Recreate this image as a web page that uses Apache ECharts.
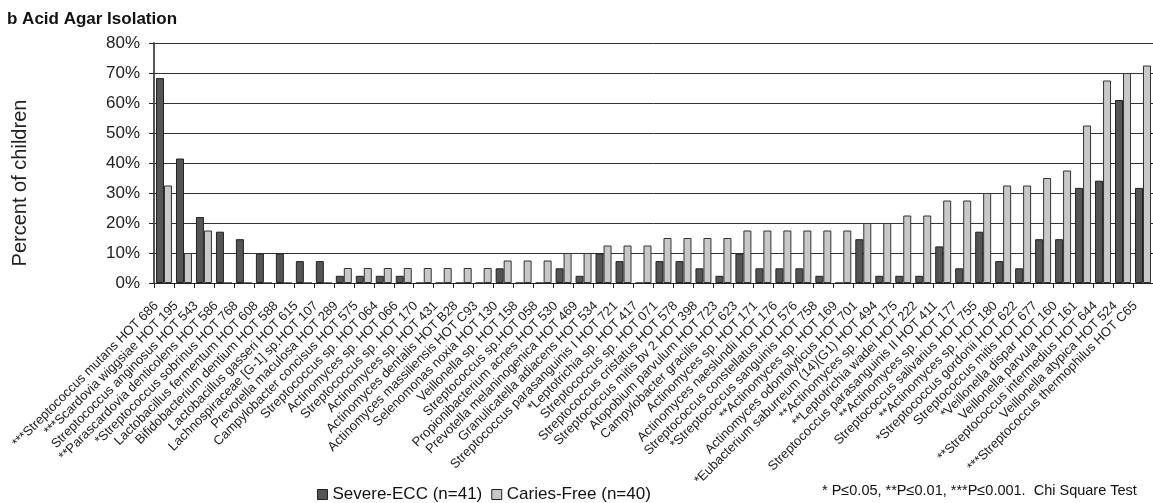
<!DOCTYPE html>
<html>
<head>
<meta charset="utf-8">
<script src="https://cdn.jsdelivr.net/npm/echarts@6/dist/echarts.min.js"></script>
<style>
html,body{margin:0;padding:0;background:#fff;}
#chart{width:1153px;height:503px;}
</style>
</head>
<body>
<div id="chart"></div>
<script>
var categories = [
  "***Streptococcus mutans HOT 686",
  "***Scardovia wiggsiae HOT 195",
  "Streptococcus anginosus HOT 543",
  "**Parascardovia denticolens HOT 586",
  "*Streptococcus sobrinus HOT 768",
  "Lactobacillus fermentum HOT 608",
  "Bifidobacterium dentium HOT 588",
  "Lactobacillus gasseri HOT 615",
  "Lachnospiraceae [G-1] sp.HOT 107",
  "Prevotella maculosa HOT 289",
  "Campylobacter concisus HOT 575",
  "Streptococcus sp. HOT 064",
  "Actinomyces sp. HOT 066",
  "Streptococcus sp. HOT 170",
  "Actinomyces sp. HOT 431",
  "Actinomyces dentalis HOT B28",
  "Actinomyces massiliensis HOT C93",
  "Selenomonas noxia HOT 130",
  "Veillonella sp. HOT 158",
  "Streptococcus sp.HOT 058",
  "Propionibacterium acnes HOT 530",
  "Prevotella melaninogenica HOT 469",
  "Granulicatella adiacens HOT 534",
  "Streptococcus parasanguinis I HOT 721",
  "*Leptotrichia sp. HOT 417",
  "Streptococcus sp. HOT 071",
  "Streptococcus cristatus HOT 578",
  "Streptococcus mitis bv 2 HOT 398",
  "Atopobium parvulum HOT 723",
  "Campylobacter gracilis HOT 623",
  "Actinomyces sp. HOT 171",
  "Actinomyces naeslundii HOT 176",
  "Streptococcus constellatus HOT 576",
  "*Streptococcus sanguinis HOT 758",
  "**Actinomyces sp. HOT 169",
  "Actinomyces odontolyticus HOT 701",
  "*Eubacterium saburreum (14)(G1) HOT 494",
  "**Actinomyces sp. HOT 175",
  "**Leptotrichia wadei HOT 222",
  "Streptococcus parasanguinis II HOT 411",
  "**Actinomyces sp. HOT 177",
  "Streptococcus salivarius HOT 755",
  "**Actinomyces sp. HOT 180",
  "*Streptococcus gordonii HOT 622",
  "Streptococcus mitis HOT 677",
  "*Veillonella dispar HOT 160",
  "Veillonella parvula HOT 161",
  "**Streptococcus intermedius HOT 644",
  "Veillonella atypica HOT 524",
  "***Streptococcus thermophilus HOT C65"
];
var severeECC = [68.3, 41.5, 22.0, 17.1, 14.6, 9.8, 9.8, 7.3, 7.3, 2.4, 2.4, 2.4, 2.4, 0, 0, 0, 0, 4.9, 0, 0, 4.9, 2.4, 9.8, 7.3, 0, 7.3, 7.3, 4.9, 2.4, 9.8, 4.9, 4.9, 4.9, 2.4, 0, 14.6, 2.4, 2.4, 2.4, 12.2, 4.9, 17.1, 7.3, 4.9, 14.6, 14.6, 31.7, 34.1, 61.0, 31.7];
var cariesFree = [32.5, 10, 17.5, 0, 0, 0, 0, 0, 0, 5, 5, 5, 5, 5, 5, 5, 5, 7.5, 7.5, 7.5, 10, 10, 12.5, 12.5, 12.5, 15, 15, 15, 15, 17.5, 17.5, 17.5, 17.5, 17.5, 17.5, 20, 20, 22.5, 22.5, 27.5, 27.5, 30, 32.5, 32.5, 35, 37.5, 52.5, 67.5, 70, 72.5];
var seriesNames = ["Severe-ECC (n=41)", "Caries-Free (n=40)"];
var yTicks = {min: 0, max: 80, interval: 10};
var titleText = "b Acid Agar Isolation";
var yAxisName = "Percent of children";
var footnote = "* P\u22640.05, **P\u22640.01, ***P\u22640.001.  Chi Square Test";

var FONT = "Liberation Sans, Arial, Helvetica, sans-serif";
var chart = echarts.init(document.getElementById('chart'), null, {renderer: 'canvas'});
chart.setOption({
  animation: false,
  backgroundColor: '#ffffff',
  title: [
    {text: titleText, left: 7, top: 11, padding: 0,
     textStyle: {fontFamily: FONT, fontSize: 17, fontWeight: 'bold', color: '#111'}},
    {text: footnote, left: 822, top: 483, padding: 0,
     textStyle: {fontFamily: FONT, fontSize: 14.5, fontWeight: 'normal', color: '#111'}}
  ],
  graphic: [
    {type: 'text', x: 20, y: 183, rotation: Math.PI / 2,
     style: {text: yAxisName, fontFamily: FONT, fontSize: 20, fill: '#222',
             textAlign: 'center', textVerticalAlign: 'middle'}}
  ],
  legend: {
    data: seriesNames,
    left: 317, top: 486, padding: 0,
    icon: 'rect', itemWidth: 10, itemHeight: 10, itemGap: 9,
    itemStyle: {borderColor: '#222', borderWidth: 1},
    textStyle: {fontFamily: FONT, fontSize: 17, color: '#111'}
  },
  grid: {left: 154, right: -1, top: 43, bottom: 220, containLabel: false},
  xAxis: {
    type: 'category',
    data: categories,
    boundaryGap: true,
    axisLine: {show: true, lineStyle: {color: '#222', width: 1}},
    axisTick: {show: true, alignWithLabel: false, length: 5, lineStyle: {color: '#222'}},
    axisLabel: {interval: 0, rotate: 45, margin: 13, padding: [0, 11, 0, 0],
                fontFamily: FONT, fontSize: 13, color: '#222'}
  },
  yAxis: {
    type: 'value',
    min: yTicks.min, max: yTicks.max, interval: yTicks.interval,
    axisLine: {show: true, lineStyle: {color: '#555', width: 2}},
    axisTick: {show: true, length: 5, lineStyle: {color: '#222'}},
    axisLabel: {formatter: '{value}%', margin: 14, fontFamily: FONT, fontSize: 17, color: '#222'},
    splitLine: {show: true, lineStyle: {color: '#333', width: 1}}
  },
  series: [
    {name: seriesNames[0], type: 'bar', data: severeECC, barGap: '0%', barCategoryGap: '20%',
     itemStyle: {color: '#555555', borderColor: '#222', borderWidth: 1}},
    {name: seriesNames[1], type: 'bar', data: cariesFree, barGap: '0%', barCategoryGap: '20%',
     itemStyle: {color: '#c8c8c8', borderColor: '#333', borderWidth: 1}}
  ]
});
</script>
</body>
</html>
